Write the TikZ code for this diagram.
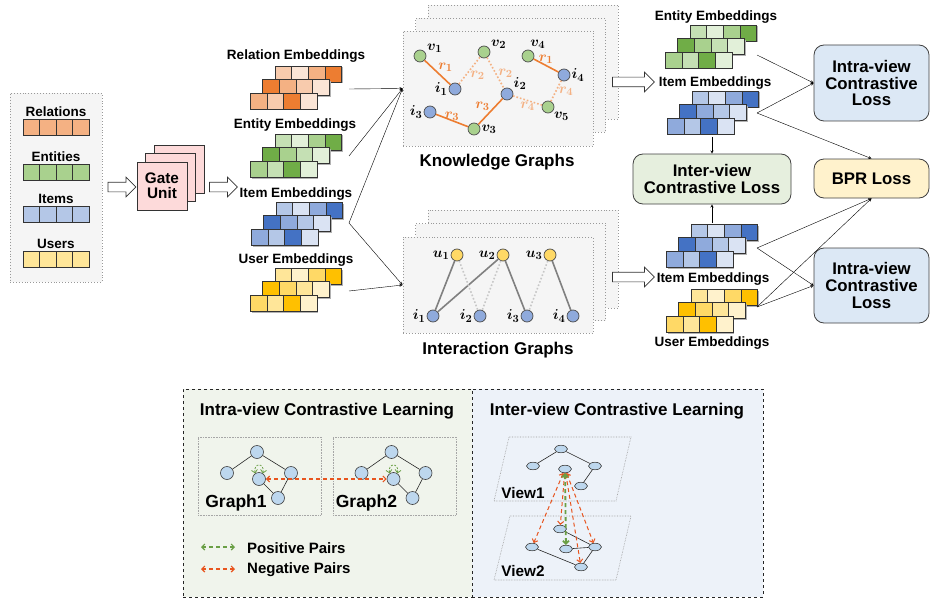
\documentclass[tikz,border=0pt]{standalone}
\usepackage{fontspec}
\setmainfont{Liberation Sans}
\usepackage{amsmath}
\usepackage{bm}
\usepackage{tikz}
\usetikzlibrary{shapes,shapes.arrows,arrows,arrows.meta,calc}

\definecolor{orA}{HTML}{FBE5D6}
\definecolor{orB}{HTML}{F8CBAD}
\definecolor{orC}{HTML}{F4B183}
\definecolor{orD}{HTML}{ED7D31}
\definecolor{grA}{HTML}{E2F0D9}
\definecolor{grB}{HTML}{C5E0B4}
\definecolor{grC}{HTML}{A9D18E}
\definecolor{grD}{HTML}{70AD47}
\definecolor{blA}{HTML}{DAE3F3}
\definecolor{blB}{HTML}{B4C7E7}
\definecolor{blC}{HTML}{8FAADC}
\definecolor{blD}{HTML}{4472C4}
\definecolor{yeA}{HTML}{FFF2CC}
\definecolor{yeB}{HTML}{FFE699}
\definecolor{yeC}{HTML}{FFD966}
\definecolor{yeD}{HTML}{FFC000}
\definecolor{gatefill}{HTML}{FDDADA}
\definecolor{intrafill}{HTML}{DCE8F5}
\definecolor{interfill}{HTML}{E6EFDE}
\definecolor{bprfill}{HTML}{FFF2CC}
\definecolor{leftbg}{HTML}{F0F4EC}
\definecolor{rightbg}{HTML}{EDF2F9}
\definecolor{nodeblue}{HTML}{BDD7EE}
\definecolor{negred}{HTML}{E8541E}
\definecolor{posgreen}{HTML}{6A9F45}

\newcommand{\fsz}[1]{\fontsize{#1}{#1}\selectfont}

% three shifted rows of four cells, #3 = colour family
\newcommand{\embstack}[3]{%
  \foreach \lay/\cols in {0/{B,A,C,D},1/{D,C,B,A},2/{C,B,D,A}} {
    \fill[black!30] ({#1-\lay*12.3+1.5},{#2+\lay*13.5+1.5}) rectangle ++(66.4,16);
    \foreach \tone [count=\k from 0] in \cols {
      \draw[cell, fill=#3\tone] ({#1+\k*16.6-\lay*12.3},{#2+\lay*13.5}) rectangle ++(16.6,16);
    }
  }
}

\begin{document}
\begin{tikzpicture}
  [
    x=1pt, y=-1pt,
    every node/.style = {font=\bfseries},
    cell/.style   = {draw=black!80, line width=0.6pt},
    panel/.style  = {draw=black!40, dotted, line width=0.9pt, fill=black!4},
    hollow/.style = {single arrow, draw=black!80, fill=white, line width=0.7pt,
                     inner sep=4.5pt, single arrow head extend=5pt},
    gate/.style   = {draw=black!80, fill=gatefill, line width=0.7pt, align=center,
                     minimum width=50pt, minimum height=48pt, font=\fsz{15.3}\bfseries},
    intxt/.style  = {font=\fsz{13.5}\bfseries, inner sep=0pt},
    etxt/.style   = {font=\fsz{13.5}\bfseries, inner sep=0pt},
    gtitle/.style = {font=\fsz{17}\bfseries, inner sep=0pt},
    gn/.style     = {circle, draw=black!70, line width=0.7pt, minimum size=12pt, inner sep=0pt},
    glab/.style   = {font=\fsz{15}, inner sep=1pt},
    elab/.style   = {font=\fsz{15}, inner sep=1pt, text=orD},
    elabl/.style  = {font=\fsz{15}, inner sep=1pt, text=orC},
    kline/.style  = {draw=orD, line width=1.6pt},
    kdot/.style   = {draw=orC, dotted, line width=1.6pt},
    iline/.style  = {draw=black!50, line width=1.6pt},
    idot/.style   = {draw=black!22, dotted, line width=1.6pt},
    loss/.style   = {draw=black!75, line width=0.8pt, rounded corners=10pt, align=center,
                     minimum width=115pt, font=\fsz{16.8}\bfseries},
    lbox/.style   = {draw=black!85, dashed, line width=0.8pt},
    gbox/.style   = {draw=black!35, densely dotted, line width=0.6pt},
    bnode/.style  = {circle, draw=black!75, fill=nodeblue, line width=0.6pt,
                     minimum size=13pt, inner sep=0pt},
    vnode/.style  = {ellipse, draw=black!75, fill=nodeblue, line width=0.6pt,
                     minimum width=13pt, minimum height=7.5pt, inner sep=0pt},
    bedge/.style  = {draw=black!85, line width=0.6pt},
    para/.style   = {draw=black!40, densely dotted, line width=0.6pt},
    posarr/.style = {draw=posgreen, dash pattern=on 4pt off 3pt, line width=1.2pt, <->,
                     >={Straight Barb[length=3pt,width=6pt]}},
    negarr/.style = {draw=negred, dash pattern=on 4pt off 3pt, line width=1.2pt, <->,
                     >={Straight Barb[length=3pt,width=6pt]}}
  ]
  \useasboundingbox (0,0) rectangle (934,599);

  % inputs
  \node [panel, minimum width=92pt, minimum height=189pt] (inp) at (56,187.5) {};
  \foreach \nm/\col/\y in {Relations/orC/112, Entities/grC/157, Items/blB/199, Users/yeB/244} {
    \node [intxt] (\nm) at (56,\y) {\nm};
    \foreach \k in {0,...,3}
      \draw[cell, fill=\col] ({23+\k*16.5},{\y+7}) rectangle ++(16.5,16.5);
  }

  % gate unit
  \node [gate] (gate3) at (179,169)   {};
  \node [gate] (gate2) at (170.5,177.5) {};
  \node [gate] (gate)  at (162,186)   {Gate\\Unit};
  \node [hollow, minimum height=28pt] (h1) at (119.5,187) {};
  \node [hollow, minimum height=28pt] (h2) at (221,187)   {};

  % embeddings
  \node [etxt] (relT) at (296,56)  {Relation Embeddings};
  \embstack{275}{66}{or}
  \node [etxt] (entT) at (295,125) {Entity Embeddings};
  \embstack{275}{134}{gr}
  \node [etxt] (itmT) at (296,194) {Item Embeddings};
  \embstack{276}{202}{bl}
  \node [etxt] (usrT) at (296,260) {User Embeddings};
  \embstack{275}{268}{ye}

  \coordinate (relO) at (349,89);
  \coordinate (entO) at (349,156);
  \coordinate (itmO) at (349,223);
  \coordinate (usrO) at (349,291);

  % graph panels
  \node [panel, minimum width=190pt, minimum height=114pt] (kg3) at (523,62)    {};
  \node [panel, minimum width=190pt, minimum height=114pt] (kg2) at (510.5,75.5) {};
  \node [panel, minimum width=190pt, minimum height=115pt] (kg)  at (498,88.5)  {};
  \node [panel, minimum width=190pt, minimum height=98pt]  (ig3) at (523,259)   {};
  \node [panel, minimum width=190pt, minimum height=97pt]  (ig2) at (510.5,272) {};
  \node [panel, minimum width=190pt, minimum height=96pt]  (ig)  at (498,285)   {};
  \node [gtitle] (kgT) at (497,162) {Knowledge Graphs};
  \node [gtitle] (igT) at (498,350) {Interaction Graphs};

  \draw[->, >=stealth] (relO) -- (kg.west);
  \draw[->, >=stealth] (entO) -- (kg.west);
  \draw[->, >=stealth] (itmO) -- (kg.west);
  \draw[->, >=stealth] (itmO) -- (ig.west);
  \draw[->, >=stealth] (usrO) -- (ig.west);

  % knowledge graph
  \node [gn, fill=grC, label={[glab]20:$\bm{v}_{\bm{1}}$}]    (kv1) at (420,56)  {};
  \node [gn, fill=blC, label={[glab]left:$\bm{i}_{\bm{1}}$}]  (ki1) at (455,89)  {};
  \node [gn, fill=grC, label={[glab]20:$\bm{v}_{\bm{2}}$}]    (kv2) at (484,52)  {};
  \node [gn, fill=blC, label={[glab]30:$\bm{i}_{\bm{2}}$}]    (ki2) at (507,94)  {};
  \node [gn, fill=grC, label={[glab]80:$\bm{v}_{\bm{4}}$}]    (kv4) at (528,56)  {};
  \node [gn, fill=blC, label={[glab]right:$\bm{i}_{\bm{4}}$}] (ki4) at (564,75)  {};
  \node [gn, fill=grC, label={[glab]-40:$\bm{v}_{\bm{5}}$}]   (kv5) at (548,107) {};
  \node [gn, fill=blC, label={[glab]left:$\bm{i}_{\bm{3}}$}]  (ki3) at (430,112) {};
  \node [gn, fill=grC, label={[glab]right:$\bm{v}_{\bm{3}}$}] (kv3) at (474,129) {};

  \draw[kline] (kv1) -- node[elab, above right=-1pt]  {$\bm{r}_{\bm{1}}$} (ki1);
  \draw[kdot]  (ki1) -- node[elabl, below right=-1pt] {$\bm{r}_{\bm{2}}$} (kv2);
  \draw[kdot]  (kv2) -- node[elabl, right=1pt]        {$\bm{r}_{\bm{2}}$} (ki2);
  \draw[kline] (ki2) -- node[elab, above left=-1pt]   {$\bm{r}_{\bm{3}}$} (kv3);
  \draw[kline] (ki3) -- node[elab, above=-2pt]        {$\bm{r}_{\bm{3}}$} (kv3);
  \draw[kdot]  (ki2) -- node[elabl, below=0pt]        {$\bm{r}_{\bm{4}}$} (kv5);
  \draw[kdot]  (kv5) -- node[elabl, right=1pt]        {$\bm{r}_{\bm{4}}$} (ki4);
  \draw[kline] (kv4) -- node[elab, above=0pt]         {$\bm{r}_{\bm{1}}$} (ki4);

  % interaction graph
  \foreach \n/\x in {1/457, 2/503, 3/550}
    \node [gn, fill=yeC, label={[glab]left:$\bm{u}_{\bm{\n}}$}] (u\n) at (\x,255) {};
  \foreach \n/\x in {1/433, 2/480, 3/527, 4/573}
    \node [gn, fill=blC, label={[glab]left:$\bm{i}_{\bm{\n}}$}] (ii\n) at (\x,316) {};
  \draw[iline] (u1) -- (ii1);
  \draw[iline] (u2) -- (ii1);
  \draw[iline] (u2) -- (ii3);
  \draw[iline] (u3) -- (ii4);
  \draw[idot]  (u1) -- (ii2);
  \draw[idot]  (u2) -- (ii2);
  \draw[idot]  (u3) -- (ii3);

  \node [hollow, minimum height=42pt] (h3) at (631,82)  {};
  \node [hollow, minimum height=42pt] (h4) at (631,277) {};

  % view embeddings
  \node [etxt] (entT2) at (716,17) {Entity Embeddings};
  \embstack{690}{25}{gr}
  \node [etxt] (itmT2) at (715,83) {Item Embeddings};
  \embstack{692}{91}{bl}
  \embstack{691}{224}{bl}
  \node [etxt] (itmT3) at (713,279) {Item Embeddings};
  \embstack{691}{289}{ye}
  \node [etxt] (usrT2) at (712,343) {User Embeddings};

  \coordinate (entR)  at (757,55);
  \coordinate (itmR)  at (757,113);
  \coordinate (itmR2) at (757,248);
  \coordinate (usrR)  at (757,307);
  \coordinate (itmD)  at (712,137);
  \coordinate (itmU)  at (712,223);

  % losses
  \node [loss, fill=intrafill, minimum height=76pt] (intra1) at (871.5,83)
    {\fontsize{16.8}{20.5}\selectfont Intra-view\\Contrastive\\Loss};
  \node [loss, fill=bprfill, minimum height=39pt] (bpr) at (871.5,178.5) {BPR Loss};
  \node [loss, fill=intrafill, minimum height=75pt] (intra2) at (871.5,285.5)
    {\fontsize{16.8}{20.5}\selectfont Intra-view\\Contrastive\\Loss};
  \node [loss, fill=interfill, minimum width=158pt, minimum height=50pt] (inter) at (712,179)
    {\fontsize{16.8}{18.5}\selectfont Inter-view\\Contrastive Loss};

  \draw[->, >=stealth] (entR)  -- (intra1.west);
  \draw[->, >=stealth] (itmR)  -- (intra1.west);
  \draw[->, >=stealth] (itmR)  -- (bpr.north);
  \draw[->, >=stealth] (itmR2) -- (bpr.south);
  \draw[->, >=stealth] (itmR2) -- (intra2.west);
  \draw[->, >=stealth] (usrR)  -- (bpr.south);
  \draw[->, >=stealth] (usrR)  -- (intra2.west);
  \draw[->, >=stealth] (itmD)  -- (inter.north);
  \draw[->, >=stealth] (itmU)  -- (inter.south);

  % bottom: intra-view
  \node [lbox, fill=leftbg,  minimum width=289pt, minimum height=208pt] (intraL) at (327.5,493) {};
  \node [lbox, fill=rightbg, minimum width=291pt, minimum height=208pt] (interL) at (617.5,493) {};
  \node [gtitle] (intraT) at (327,411) {Intra-view Contrastive Learning};
  \node [gtitle] (interT) at (617,411) {Inter-view Contrastive Learning};

  \node [gbox, minimum width=123pt, minimum height=78pt] (g1box) at (259.5,476) {};
  \node [gbox, minimum width=123pt, minimum height=78pt] (g2box) at (394.5,476) {};
  \foreach \g/\dx in {1/0, 2/134.5} {
    \node [bnode] (t\g) at (257+\dx,452) {};
    \node [bnode] (l\g) at (227+\dx,473) {};
    \node [bnode] (m\g) at (259+\dx,479) {};
    \node [bnode] (r\g) at (291+\dx,473) {};
    \node [bnode] (b\g) at (278+\dx,498) {};
    \draw[bedge] (t\g) -- (l\g) (t\g) -- (r\g) (m\g) -- (b\g) (b\g) -- (r\g);
    \draw[posarr, line width=0.8pt, dash pattern=on 2pt off 1.5pt] (m\g.125) .. controls +(-2,-11) and +(2,-11) .. (m\g.55);
    \node [gtitle, font=\fsz{17.5}\bfseries] (gn\g) at (236+\dx*0.97,503) {Graph\g};
  }
  \draw[negarr] (m1) -- (m2);

  \coordinate (pa) at (201,547);
  \coordinate (pb) at (235,547);
  \coordinate (na) at (201,569);
  \coordinate (nb) at (235,569);
  \draw[posarr] (pa) -- (pb);
  \draw[negarr] (na) -- (nb);
  \node [gtitle, font=\fsz{15}\bfseries, anchor=west] (posT) at (247,548) {Positive Pairs};
  \node [gtitle, font=\fsz{15}\bfseries, anchor=west] (negT) at (247,570) {Negative Pairs};

  % bottom: inter-view
  \draw[para] (509,437) -- (631,437) -- (616,501) -- (494,501) -- cycle;
  \draw[para] (510,516) -- (631,516) -- (616,580) -- (494,580) -- cycle;

  \node [vnode] (vt1) at (561,449) {};
  \node [vnode] (vl1) at (533,466) {};
  \node [vnode] (vc1) at (565,469) {};
  \node [vnode] (vr1) at (595,466) {};
  \node [vnode] (vb1) at (581,486) {};
  \node [vnode] (vt2) at (560,529) {};
  \node [vnode] (vl2) at (532,547) {};
  \node [vnode] (vm2) at (566,549) {};
  \node [vnode] (vr2) at (595,547) {};
  \node [vnode] (vb2) at (581,567) {};
  \draw[bedge] (vt1) -- (vl1) (vt1) -- (vr1) (vr1) -- (vb1);
  \draw[bedge] (vt2) -- (vr2) (vm2) -- (vr2) (vl2) -- (vb2) (vr2) -- (vb2);

  \draw[negarr, line width=1pt] (vc1) -- (vl2);
  \draw[negarr, line width=1pt] (vc1) -- (vt2);
  \draw[negarr, line width=1pt] (vc1) -- (vb2);
  \draw[negarr, line width=1pt] (vc1) -- (vr2);
  \draw[posarr, line width=1.8pt] (vc1) -- (vm2);

  \node [gtitle, font=\fsz{15.3}\bfseries] (v1T) at (523,493) {View1};
  \node [gtitle, font=\fsz{15.3}\bfseries] (v2T) at (523,571) {View2};
\end{tikzpicture}
\end{document}
